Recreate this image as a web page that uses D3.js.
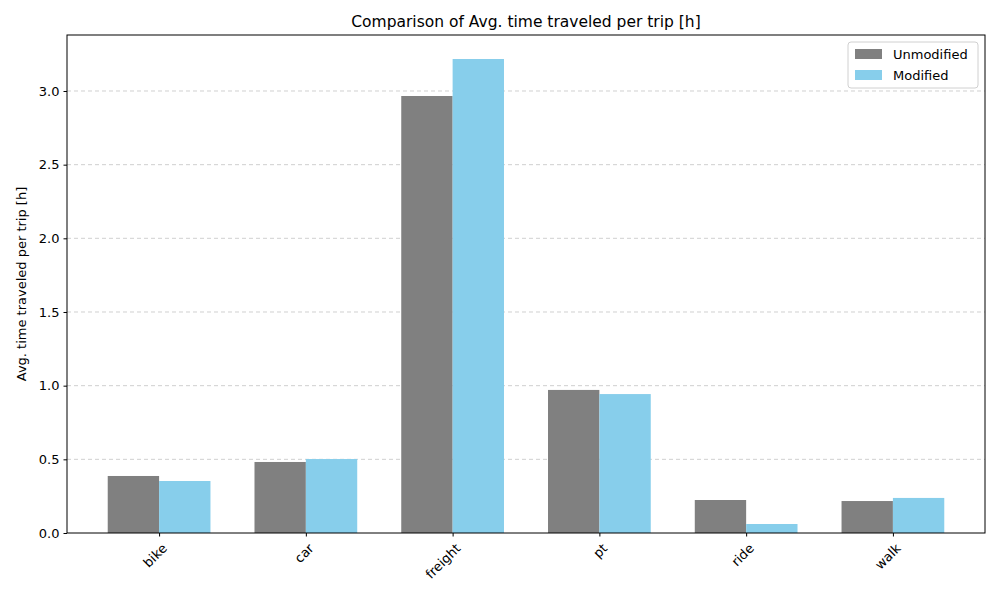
<!DOCTYPE html>
<html><head><meta charset="utf-8">
<script src="https://cdn.jsdelivr.net/npm/d3@7"></script>
<style>body{margin:0;background:#fff;font-family:"DejaVu Sans",sans-serif;}</style>
</head><body><svg id="chart" width="1000" height="600"></svg>
<script>
const MODES = ["bike", "car", "freight", "pt", "ride", "walk"];
const UNMODIFIED = [0.387, 0.482, 2.966, 0.971, 0.224, 0.217];
const MODIFIED = [0.353, 0.502, 3.217, 0.943, 0.061, 0.238];
const Y_TICKS = [0, 0.5, 1.0, 1.5, 2.0, 2.5, 3.0];

const svg = d3.select("#chart");
const plotL = 67, plotR = 985, plotT = 35, plotB = 533;

// x in category units like matplotlib
const x = d3.scaleLinear().domain([-0.6275, 5.6275]).range([plotL, plotR]);
const y = d3.scaleLinear().domain([0, 3.38]).range([plotB, plotT]);
const bw = 0.35;

// grid
svg.append("g").selectAll("line").data(Y_TICKS.slice(1)).join("line")
    .attr("x1", plotL).attr("x2", plotR)
    .attr("y1", d => y(d)).attr("y2", d => y(d))
    .attr("stroke", "#c4c4c4").attr("stroke-dasharray", "4,3").attr("stroke-width", 0.8);

// bars
const series = [
    { name: "Unmodified", vals: UNMODIFIED, color: "#808080", off: -bw / 2 },
    { name: "Modified", vals: MODIFIED, color: "#87ceeb", off: bw / 2 }
];
series.forEach(s => {
    svg.append("g").selectAll("rect").data(s.vals).join("rect")
        .attr("x", (d, i) => x(i + s.off - bw / 2))
        .attr("width", x(bw) - x(0))
        .attr("y", d => y(d))
        .attr("height", d => plotB - y(d))
        .attr("fill", s.color);
});

// axes
svg.append("g").attr("transform", `translate(${plotL},0)`)
    .call(d3.axisLeft(y).tickValues(Y_TICKS).tickFormat(d3.format(".1f")).tickSize(3.5).tickPadding(4))
    .call(g => g.select(".domain").remove())
    .selectAll("text").attr("font-size", 13).attr("fill", "#000").attr("font-family", "DejaVu Sans");

const xa = svg.append("g").attr("transform", `translate(0,${plotB})`)
    .call(d3.axisBottom(x).tickValues(d3.range(MODES.length)).tickFormat(i => MODES[i]).tickSize(3.5))
    .call(g => g.select(".domain").remove());
xa.selectAll("text").attr("font-size", 13).attr("fill", "#000").attr("font-family", "DejaVu Sans")
    .attr("text-anchor", "end").attr("dy", null).attr("y", 10)
    .attr("transform", "rotate(-45,0,8)").attr("dominant-baseline", "hanging");

svg.append("rect").attr("x", plotL).attr("y", plotT).attr("width", plotR - plotL).attr("height", plotB - plotT)
    .attr("fill", "none").attr("stroke", "#000").attr("stroke-width", 1);

// title / label
svg.append("text").attr("x", (plotL + plotR) / 2).attr("y", 27).attr("text-anchor", "middle")
    .attr("font-size", 15.5).text("Comparison of Avg. time traveled per trip [h]");
svg.append("text").attr("transform", `translate(26,${(plotT + plotB) / 2}) rotate(-90)`)
    .attr("text-anchor", "middle").attr("font-size", 13).text("Avg. time traveled per trip [h]");

// legend
const lg = svg.append("g").attr("transform", "translate(848,42)");
lg.append("rect").attr("width", 130).attr("height", 46).attr("rx", 3)
    .attr("fill", "#fff").attr("fill-opacity", 0.8).attr("stroke", "#d0d0d0");
series.forEach((s, i) => {
    lg.append("rect").attr("x", 7).attr("y", 7 + i * 21).attr("width", 27).attr("height", 10).attr("fill", s.color);
    lg.append("text").attr("x", 45).attr("y", 17 + i * 21).attr("font-size", 13).text(s.name);
});
</script></body></html>
